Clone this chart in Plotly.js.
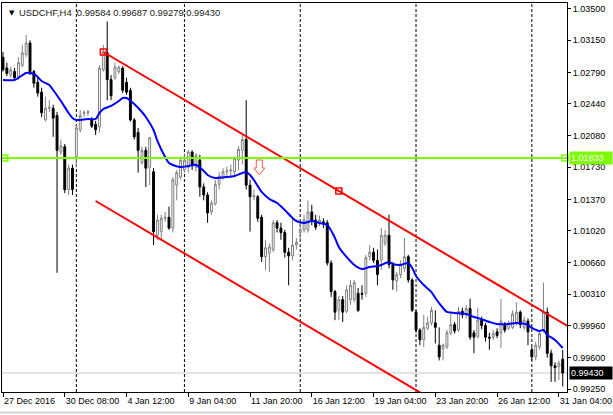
<!DOCTYPE html>
<html>
<head>
<meta charset="utf-8">
<script src="https://cdn.plot.ly/plotly-3.0.1.min.js"></script>
<style>
html,body{margin:0;padding:0;background:#fff;}
#chart{width:613px;height:415px;}
</style>
</head>
<body>
<div id="chart"></div>
<script>
// ---- H4 candles USDCHF (bar index 0 = leftmost visible bar) ----
const open = [
1.0296,1.0284,1.0276,1.0280,1.0274,1.0287,1.0299,1.0312,1.0280,1.0268,
1.0257,1.0226,1.0239,1.0239,1.0231,1.0190,1.0196,1.0148,1.0172,1.0185,
1.0215,1.0233,1.0234,1.0226,1.0221,1.0218,1.0282,1.0301,1.0271,1.0273,
1.0280,1.0284,1.0268,1.0259,1.0226,1.0212,1.0178,1.0192,1.0173,1.0168,
1.0097,1.0101,1.0116,1.0117,1.0105,1.0153,1.0162,1.0170,1.0173,1.0190,
1.0173,1.0181,1.0151,1.0142,1.0123,1.0132,1.0154,1.0162,1.0168,1.0169,
1.0168,1.0181,1.0192,1.0204,1.0153,1.0140,1.0140,1.0117,1.0073,1.0077,
1.0081,1.0111,1.0105,1.0100,1.0078,1.0074,1.0086,1.0100,1.0103,1.0103,
1.0123,1.0114,1.0111,1.0112,1.0111,1.0066,1.0034,1.0013,1.0025,1.0012,
1.0025,1.0025,1.0032,1.0032,1.0032,1.0073,1.0078,1.0069,1.0069,1.0088,
1.0097,1.0064,1.0046,1.0053,1.0060,1.0073,1.0047,1.0011,0.9991,0.9980,
0.9993,0.9999,0.9999,0.9974,0.9970,0.9972,0.9988,0.9997,0.9991,1.0012,
1.0008,1.0015,0.9988,0.9984,1.0002,0.9996,0.9983,0.9983,0.9989,0.9988,
0.9997,0.9993,0.9994,0.9999,1.0011,0.9994,1.0001,0.9969,0.9961,0.9972,
0.9991,1.0011,0.9965,0.9951,0.9950,0.99584];
const high = [
1.0302,1.0290,1.0285,1.0284,1.0296,1.0310,1.0321,1.0315,1.0282,1.0273,
1.0262,1.0252,1.0248,1.0243,1.0235,1.0204,1.0199,1.0176,1.0176,1.0220,
1.0237,1.0237,1.0237,1.0229,1.0225,1.0287,1.0310,1.0336,1.0276,1.0290,
1.0287,1.0286,1.0273,1.0262,1.0228,1.0217,1.0196,1.0196,1.0207,1.0172,
1.0120,1.0120,1.0123,1.0129,1.0162,1.0170,1.0185,1.0187,1.0192,1.0192,
1.0189,1.0187,1.0155,1.0145,1.0136,1.0159,1.0168,1.0172,1.0174,1.0176,
1.0185,1.0197,1.0209,1.0248,1.0159,1.0148,1.0142,1.0120,1.0092,1.0088,
1.0114,1.0114,1.0111,1.0103,1.0083,1.0116,1.0094,1.0111,1.0120,1.0136,
1.0131,1.0120,1.0119,1.0116,1.0114,1.0069,1.0036,1.0029,1.0029,1.0041,
1.0047,1.0047,1.0038,1.0041,1.0075,1.0086,1.0083,1.0081,1.0105,1.0103,
1.0120,1.0067,1.0056,1.0069,1.0094,1.0075,1.0049,1.0013,0.9993,1.0008,
1.0006,1.0017,1.0013,0.9994,0.9976,0.9991,1.0012,1.0000,1.0017,1.0016,
1.0019,1.0026,0.9991,1.0016,1.0006,0.9999,0.9988,0.9991,0.9993,1.0026,
1.0000,1.0002,1.0013,1.0022,1.0013,1.0006,1.0004,0.9972,0.9978,0.9989,
1.0044,1.0016,0.9969,0.9955,0.9957,0.99687];
const low = [
1.0280,1.0275,1.0273,1.0271,1.0271,1.0285,1.0296,1.0276,1.0262,1.0252,
1.0229,1.0224,1.0235,1.0207,1.0055,1.0187,1.0144,1.0142,1.0142,1.0173,
1.0212,1.0229,1.0230,1.0217,1.0209,1.0212,1.0280,1.0248,1.0248,1.0271,
1.0277,1.0256,1.0254,1.0224,1.0204,1.0167,1.0176,1.0151,1.0153,1.0086,
1.0092,1.0092,1.0112,1.0103,1.0100,1.0136,1.0159,1.0167,1.0167,1.0170,
1.0168,1.0140,1.0136,1.0111,1.0120,1.0130,1.0148,1.0159,1.0163,1.0163,
1.0164,1.0170,1.0176,1.0148,1.0101,1.0136,1.0112,1.0067,1.0058,1.0056,
1.0078,1.0100,1.0092,1.0072,1.0041,1.0069,1.0081,1.0092,1.0100,1.0100,
1.0108,1.0103,1.0107,1.0105,1.0063,1.0028,1.0002,1.0002,1.0000,1.0010,
1.0019,1.0022,1.0011,1.0025,1.0028,1.0069,1.0066,1.0041,1.0058,1.0085,
1.0060,1.0036,1.0034,1.0049,1.0056,1.0044,1.0011,0.9988,0.9974,0.9972,
0.9991,0.9996,0.9976,0.9957,0.9957,0.9970,0.9985,0.9987,0.9989,1.0004,
1.0004,0.9980,0.9965,0.9982,0.9992,0.9978,0.9969,0.9980,0.9982,0.9971,
0.9988,0.9991,0.9992,0.9996,0.9993,0.9991,0.9974,0.9957,0.9957,0.9969,
0.9988,0.9960,0.9933,0.9933,0.9935,0.99279];
const close = [
1.0282,1.0278,1.0282,1.0273,1.0290,1.0301,1.0312,1.0280,1.0267,1.0256,
1.0234,1.0239,1.0240,1.0228,1.0192,1.0197,1.0148,1.0172,1.0148,1.0217,
1.0231,1.0234,1.0235,1.0219,1.0215,1.0284,1.0302,1.0271,1.0253,1.0285,
1.0285,1.0259,1.0257,1.0226,1.0207,1.0192,1.0192,1.0172,1.0206,1.0101,
1.0114,1.0116,1.0117,1.0105,1.0159,1.0167,1.0181,1.0181,1.0190,1.0176,
1.0186,1.0151,1.0142,1.0122,1.0133,1.0154,1.0163,1.0168,1.0169,1.0170,
1.0183,1.0193,1.0204,1.0153,1.0140,1.0141,1.0116,1.0073,1.0083,1.0084,
1.0111,1.0105,1.0100,1.0078,1.0074,1.0086,1.0089,1.0103,1.0114,1.0123,
1.0114,1.0106,1.0114,1.0110,1.0066,1.0034,1.0011,1.0025,1.0011,1.0036,
1.0041,1.0044,1.0013,1.0031,1.0072,1.0078,1.0069,1.0053,1.0097,1.0097,
1.0064,1.0047,1.0053,1.0065,1.0073,1.0047,1.0013,0.9991,0.9980,0.9994,
0.9999,1.0013,0.9994,0.9961,0.9974,0.9988,0.9997,0.9990,1.0012,1.0008,
1.0015,0.9983,0.9983,1.0002,0.9996,0.9983,0.9982,0.9987,0.9985,1.0001,
0.9991,0.9999,1.0009,1.0011,0.9997,1.0002,0.9989,0.9961,0.9974,0.9987,
1.0011,0.9965,0.9951,0.9949,0.9954,0.99430];

// ---- moving average (blue) at these bars ----
const maIdx = [0,3,4,6,8,9,10,12,13,15,17,18,19,22,24,25,26,28,30,31,32,34,36,37,39,40,42,43,44,46,48,50,52,53,55,58,60,62,63,64,65,67,69,71,73,75,76,78,80,82,84,86,87,89,91,93,95,97,98,100,101,103,105,106,107,109,111,112,114,115,117,120,122,123,126,128,131,133,136,137,139,140,141,143,145];
const maVal = [1.02706,1.02706,1.02729,1.02785,1.02773,1.02740,1.02695,1.02650,1.02594,1.02471,1.02337,1.02281,1.02259,1.02270,1.02270,1.02337,1.02382,1.02416,1.02471,1.02505,1.02505,1.02438,1.02348,1.02292,1.02147,1.02024,1.01845,1.01778,1.01756,1.01733,1.01744,1.01756,1.01689,1.01644,1.01610,1.01621,1.01633,1.01666,1.01677,1.01644,1.01588,1.01454,1.01375,1.01331,1.01252,1.01163,1.01129,1.01107,1.01129,1.01107,1.01085,1.00939,1.00839,1.00727,1.00638,1.00593,1.00615,1.00626,1.00638,1.00671,1.00648,1.00638,1.00660,1.00604,1.00515,1.00414,1.00335,1.00268,1.00156,1.00112,1.00101,1.00089,1.00056,1.00045,1.00000,0.99978,0.99978,0.99989,0.99967,0.99933,0.99899,0.99911,0.99855,0.99799,0.99709];

// ---- objects ----
const chanUpperIdx = [26, 87];
const chanUpperPx = [1.03019, 1.01465];
const chanLowerIdx = 24;
const chanLowerPx = 1.01353;
const hLineLevel = 1.01833;
const lastPrice = 0.99430;
const arrowIdx = 66.4;
const arrowPx = 1.01644;
const separatorIdx = [19, 47, 77, 107, 137];

// ---- axis ticks ----
const xTickIdx = [0,16,32,48,64,80,96,112,128,144];
const xTickText = ['27 Dec 2016','30 Dec 08:00','4 Jan 12:00','9 Jan 04:00','11 Jan 20:00','16 Jan 12:00','19 Jan 04:00','23 Jan 20:00','26 Jan 12:00','31 Jan 04:00'];
const yTickVals = [1.03500,1.03150,1.02790,1.02440,1.02080,1.01730,1.01370,1.01020,1.00660,1.00310,0.99960,0.99600,0.99250];
const yTickText = yTickVals.map(v => v.toFixed(5));

const ohlcLast = [open[open.length-1], high[high.length-1], low[low.length-1], close[close.length-1]];
const title = 'USDCHF,H4\u00a0\u00a0' + ohlcLast.map(v=>v.toFixed(5)).join('\u00a0');

const xMin = -0.26, xMax = 146.11;
const yMin = 0.99217, yMax = 1.03567;

const bars = open.map((_, i) => i);
const slope = (chanUpperPx[1]-chanUpperPx[0])/(chanUpperIdx[1]-chanUpperIdx[0]);

const FONT = 'Liberation Sans, Arial, sans-serif';

const traces = [
  {type:'candlestick', x:bars, open:open, high:high, low:low, close:close,
   increasing:{line:{color:'#808080', width:1}, fillcolor:'#ffffff'},
   decreasing:{line:{color:'#000000', width:1}, fillcolor:'#000000'},
   whiskerwidth:0, hoverinfo:'none', showlegend:false},
  {type:'scatter', mode:'lines', x:maIdx, y:maVal,
   line:{color:'#0000ff', width:2, shape:'spline', smoothing:0.8}, hoverinfo:'none', showlegend:false},
  {type:'scatter', mode:'lines', x:[chanUpperIdx[0], xMax+1], y:[chanUpperPx[0], chanUpperPx[0]+slope*(xMax+1-chanUpperIdx[0])],
   line:{color:'#ff0000', width:2}, hoverinfo:'none', showlegend:false},
  {type:'scatter', mode:'lines', x:[chanLowerIdx, xMax+1], y:[chanLowerPx, chanLowerPx+slope*(xMax+1-chanLowerIdx)],
   line:{color:'#ff0000', width:2}, hoverinfo:'none', showlegend:false},
  {type:'scatter', mode:'markers', x:chanUpperIdx, y:chanUpperPx,
   marker:{symbol:'square-open', size:6, color:'#ff0000', line:{width:1.5}}, hoverinfo:'none', showlegend:false},
  {type:'scatter', mode:'markers', x:[0.45, 145.6], y:[hLineLevel, hLineLevel],
   marker:{symbol:'square-open', size:6, color:'#7cfc00', line:{width:1.5}}, hoverinfo:'none', showlegend:false, cliponaxis:false}
];

const shapes = [];
separatorIdx.forEach(s => shapes.push({type:'line', xref:'x', yref:'paper', x0:s, x1:s, y0:0, y1:1,
  line:{color:'#000000', width:1, dash:'3px,2px'}, layer:'below'}));
shapes.push({type:'line', xref:'paper', yref:'y', x0:0, x1:1, y0:lastPrice, y1:lastPrice,
  line:{color:'#c8c8c8', width:1}, layer:'below'});
shapes.push({type:'line', xref:'paper', yref:'y', x0:0, x1:1, y0:hLineLevel, y1:hLineLevel,
  line:{color:'#7cfc00', width:2}, layer:'above'});
shapes.push({type:'path', xref:'x', yref:'y', xsizemode:'pixel', ysizemode:'pixel',
  xanchor:arrowIdx, yanchor:arrowPx,
  path:'M 0 0 L -5.5 7 L -3 7 L -3 15 L 3 15 L 3 7 L 5.5 7 Z',
  line:{color:'#ff5a4a', width:1}, fillcolor:'#ffffff', layer:'above'});
// window bottom frame
shapes.push({type:'line', xref:'paper', yref:'paper', x0:-0.01, x1:1.09, y0:-0.0525, y1:-0.0525,
  line:{color:'#d4d4d4', width:2}});

const annotations = [
  {xref:'paper', yref:'paper', x:0, y:1, xanchor:'left', yanchor:'top', xshift:5, yshift:-4,
   text:'\u25bc', showarrow:false, font:{family:'DejaVu Sans', size:7, color:'#000000'}},
  {xref:'paper', yref:'paper', x:0, y:1, xanchor:'left', yanchor:'top', xshift:15, yshift:-2,
   text:title, showarrow:false, font:{family:FONT, size:9.4, color:'#1a1a1a'}},
  {xref:'paper', yref:'y', x:1, y:hLineLevel, xanchor:'left', yanchor:'middle', xshift:2,
   text:hLineLevel.toFixed(5), showarrow:false, bgcolor:'#7cfc00', borderpad:1, width:40, align:'left',
   font:{family:FONT, size:9, color:'#ffffff'}},
  {xref:'paper', yref:'y', x:1, y:lastPrice, xanchor:'left', yanchor:'middle', xshift:2,
   text:lastPrice.toFixed(5), showarrow:false, bgcolor:'#000000', borderpad:1, width:40, align:'left',
   font:{family:FONT, size:9, color:'#ffffff'}}
];

const layout = {
  width:613, height:415,
  margin:{l:2, r:46, t:3, b:23, pad:0},
  paper_bgcolor:'#ffffff', plot_bgcolor:'#ffffff',
  showlegend:false,
  font:{family:FONT, size:9, color:'#000000'},
  xaxis:{range:[xMin, xMax], tickvals:xTickIdx, ticktext:xTickText, ticks:'outside', ticklen:4,
    tickcolor:'#000000', ticklabelposition:'outside right', showgrid:false, zeroline:false,
    showline:true, mirror:true, linecolor:'#000000', linewidth:1, rangeslider:{visible:false},
    fixedrange:true, tickfont:{family:FONT, size:9, color:'#000000'}},
  yaxis:{range:[yMin, yMax], side:'right', tickvals:yTickVals, ticktext:yTickText, ticks:'outside',
    ticklen:3, tickcolor:'#000000', showgrid:false, zeroline:false, showline:true, mirror:true,
    linecolor:'#000000', linewidth:1, fixedrange:true, tickfont:{family:FONT, size:9, color:'#000000'}},
  shapes:shapes,
  annotations:annotations
};

Plotly.newPlot('chart', traces, layout, {staticPlot:true, displayModeBar:false});
</script>
</body>
</html>
